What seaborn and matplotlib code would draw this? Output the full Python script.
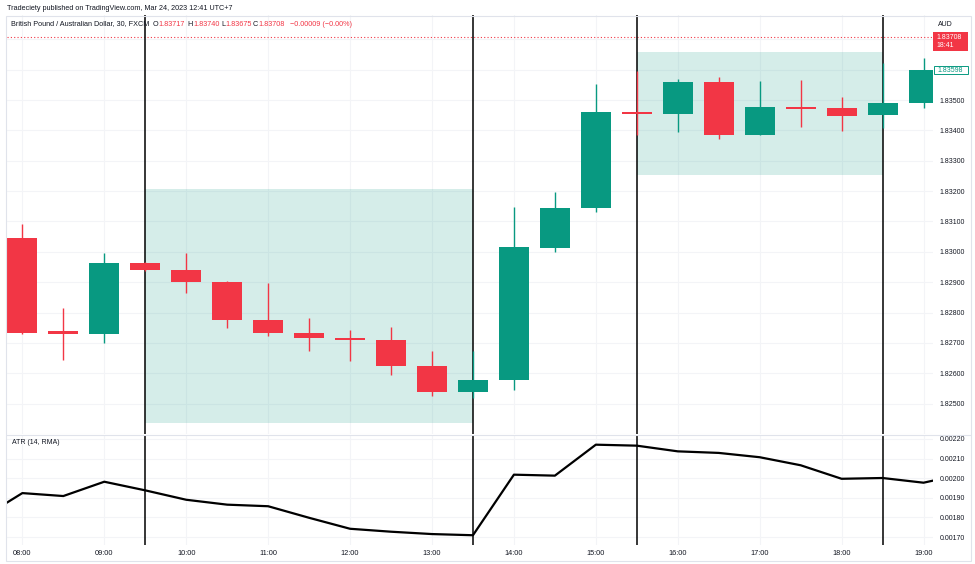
import numpy as np
import pandas as pd
import matplotlib
matplotlib.use("Agg")
import matplotlib.pyplot as plt
from matplotlib.lines import Line2D
from matplotlib.patches import Rectangle
import seaborn as sns

# ---------------- data ----------------
time_labels = ["08:00", "08:30", "09:00", "09:30", "10:00", "10:30", "11:00", "11:30",
               "12:00", "12:30", "13:00", "13:30", "14:00", "14:30", "15:00", "15:30",
               "16:00", "16:30", "17:00", "17:30", "18:00", "18:30", "19:00"]
opens = [1.83045, 1.82738, 1.82729, 1.82964, 1.82941, 1.82902, 1.82777, 1.82733,
         1.82717, 1.82711, 1.82625, 1.82538, 1.82579, 1.83014, 1.83143, 1.83461,
         1.83454, 1.83559, 1.83384, 1.83477, 1.83474, 1.83450, 1.83489]
highs = [1.83091, 1.82814, 1.82995, 1.82966, 1.82995, 1.82903, 1.82896, 1.82781,
         1.82744, 1.82753, 1.82675, 1.82675, 1.83147, 1.83196, 1.83554, 1.83595,
         1.83569, 1.83577, 1.83563, 1.83566, 1.83510, 1.83622, 1.83638]
lows = [1.82728, 1.82645, 1.82699, 1.82937, 1.82866, 1.82749, 1.82722, 1.82674,
        1.82639, 1.82595, 1.82524, 1.82517, 1.82544, 1.83000, 1.83132, 1.83384,
        1.83394, 1.83373, 1.83384, 1.83412, 1.83399, 1.83408, 1.83475]
closes = [1.82734, 1.82728, 1.82964, 1.82939, 1.82901, 1.82777, 1.82732, 1.82716,
          1.82709, 1.82625, 1.82538, 1.82579, 1.83015, 1.83144, 1.83460, 1.83454,
          1.83559, 1.83384, 1.83477, 1.83471, 1.83447, 1.83490, 1.83598]

atr_times = ["07:30", "08:00", "08:30", "09:00", "09:30", "10:00", "10:30", "11:00",
             "11:30", "12:00", "12:30", "13:00", "13:30", "14:00", "14:30", "15:00",
             "15:30", "16:00", "16:30", "17:00", "17:30", "18:00", "18:30", "19:00", "19:30"]
atr_values = [0.001795, 0.001924, 0.001909, 0.001982, 0.001938, 0.001890, 0.001865, 0.001857,
              0.001798, 0.001742, 0.001727, 0.001715, 0.001709, 0.002018, 0.002013, 0.002171,
              0.002166, 0.002137, 0.002129, 0.002107, 0.002066, 0.001997, 0.002001, 0.001977,
              0.002023]

zone_starts = ["09:30", "15:30"]
zone_ends = ["13:30", "18:30"]
zone_lows = [1.82437, 1.83252]
zone_highs = [1.83206, 1.83658]

marker_times = ["09:30", "13:30", "15:30", "18:30"]

hour_labels = ["08:00", "09:00", "10:00", "11:00", "12:00", "13:00",
               "14:00", "15:00", "16:00", "17:00", "18:00", "19:00"]
price_grid = [1.824, 1.825, 1.826, 1.827, 1.828, 1.829, 1.830, 1.831,
              1.832, 1.833, 1.834, 1.835, 1.836, 1.837]
price_labeled = [1.825, 1.826, 1.827, 1.828, 1.829, 1.830, 1.831, 1.832, 1.833, 1.834, 1.835]
atr_ticks = [0.0017, 0.0018, 0.0019, 0.0020, 0.0021, 0.0022]

last_price = 1.83708
last_price_time = "18:41"
last_close = 1.83598

header1 = "Tradeciety published on TradingView.com, Mar 24, 2023 12:41 UTC+7"
symbol_title = "British Pound / Australian Dollar, 30, FXCM"
ohlc_letters = ["O", "H", "L", "C"]
ohlc_values = ["1.83717", "1.83740", "1.83675", "1.83708"]
change_text = "\u22120.00009 (\u22120.00%)"
atr_title = "ATR (14, RMA)"
currency = "AUD"


def to_hours(s):
    h, m = s.split(":")
    return int(h) + int(m) / 60.0


# ---------------- style ----------------
sns.set_theme(style="white")
plt.rcParams["font.family"] = ["Liberation Sans", "DejaVu Sans"]

UP = "#089981"
DOWN = "#F23645"
TXT = "#131722"
GRID = "#f3f4f7"
BORDER = "#e0e3eb"

W, H = 975, 564
fig = plt.figure(figsize=(W / 100, H / 100), dpi=100)
fig.patch.set_facecolor("white")


def fx(x):
    return x / W


def fy(y):
    return 1 - y / H


L, R = 7, 933
T1, B1 = 15, 434
T2, B2 = 435, 545
ax1 = fig.add_axes([fx(L), fy(B1), (R - L) / W, (B1 - T1) / H])
ax2 = fig.add_axes([fx(L), fy(B2), (R - L) / W, (B2 - T2) / H])

xmin, xmax = 7.8126, 19.1154

df = pd.DataFrame({"t": [to_hours(s) for s in time_labels], "o": opens, "h": highs,
                   "l": lows, "c": closes})
df["up"] = df["c"] >= df["o"]
df["color"] = np.where(df["up"], UP, DOWN)
df["bottom"] = df[["o", "c"]].min(axis=1)
df["height"] = (df["c"] - df["o"]).abs().clip(lower=0.00004)

# ---------------- main pane ----------------
ax1.set_xlim(xmin, xmax)
ax1.set_ylim(1.82400, 1.83780)
ax1.set_yticks(price_grid)
ax1.set_yticklabels([f"{v:.5f}" if any(abs(v - p) < 1e-9 for p in price_labeled) else ""
                     for v in price_grid])
ax1.yaxis.tick_right()
ax1.set_xticks([to_hours(s) for s in hour_labels])
ax1.set_xticklabels([])
ax1.tick_params(axis="both", length=0)
ax1.tick_params(axis="y", pad=5, labelsize=5, labelcolor=TXT)
ax1.grid(True, color=GRID, lw=0.8, zorder=0)
ax1.set_axisbelow(True)

for s, e, lo, hi in zip(zone_starts, zone_ends, zone_lows, zone_highs):
    ax1.add_patch(Rectangle((to_hours(s), lo), to_hours(e) - to_hours(s), hi - lo,
                            facecolor=UP, alpha=0.17, edgecolor="none", zorder=1))

ax1.axhline(last_price, color=DOWN, lw=0.8, ls=(0, (1, 2)), zorder=2)

for t in marker_times:
    for ax in (ax1, ax2):
        ax.axvline(to_hours(t), color="black", lw=1.1, zorder=2)

ax1.vlines(df["t"], df["l"], df["h"], colors=df["color"], lw=1.0, zorder=3)
ax1.bar(df["t"], df["height"], bottom=df["bottom"], width=0.367, color=df["color"],
        linewidth=0, zorder=4)

for sp in ax1.spines.values():
    sp.set_visible(False)

# ---------------- ATR pane ----------------
atr_df = pd.DataFrame({"t": [to_hours(s) for s in atr_times], "atr": atr_values})
sns.lineplot(data=atr_df, x="t", y="atr", ax=ax2, color="black", lw=1.6, zorder=3)
ax2.set_xlim(xmin, xmax)
ax2.set_ylim(0.0016592, 0.0022204)
ax2.set_yticks(atr_ticks)
ax2.set_yticklabels([f"{v:.5f}" for v in atr_ticks])
ax2.yaxis.tick_right()
ax2.set_xticks([to_hours(s) for s in hour_labels])
ax2.set_xticklabels(hour_labels)
ax2.set_xlabel("")
ax2.set_ylabel("")
ax2.tick_params(axis="both", length=0, labelsize=5, labelcolor=TXT)
ax2.tick_params(axis="y", pad=5)
ax2.tick_params(axis="x", pad=3.5, labelsize=5.3)
ax2.grid(True, color=GRID, lw=0.8, zorder=0)
ax2.set_axisbelow(True)
for sp in ax2.spines.values():
    sp.set_visible(False)

# ---------------- frame lines ----------------
fig.add_artist(Rectangle((fx(5.5), fy(561)), (971 - 5.5) / W, (561 - 15.5) / H,
                         transform=fig.transFigure, fill=False, edgecolor=BORDER, lw=0.8))
fig.add_artist(Line2D([fx(5.5), fx(971)], [fy(434.5), fy(434.5)],
                      transform=fig.transFigure, color=BORDER, lw=0.8))

# ---------------- texts ----------------
fig.text(fx(7), fy(8), header1, fontsize=5.2, color=TXT, va="center", ha="left")

renderer = fig.canvas.get_renderer()
fig.text(fx(11), fy(24), symbol_title, fontsize=5.2, color=TXT, va="center", ha="left")
letter_x = [152.7, 187.7, 221, 253]
for lx, letter, val in zip(letter_x, ohlc_letters, ohlc_values):
    t = fig.text(fx(lx), fy(24), letter, fontsize=5.2, color=TXT, va="center", ha="left")
    bb = t.get_window_extent(renderer)
    fig.text(bb.x1 / W + 0.5 / W, fy(24), val, fontsize=5.2, color=DOWN, va="center", ha="left")
fig.text(fx(290), fy(24), change_text, fontsize=5.2, color=DOWN, va="center", ha="left")

fig.text(fx(11.5), fy(442), atr_title, fontsize=5, color=TXT, va="center", ha="left")
fig.text(fx(938), fy(24), currency, fontsize=5, color=TXT, va="center", ha="left")

# price labels on the right scale (display coords, origin bottom-left)
fig.canvas.draw()
y_last = ax1.transData.transform((0, last_price))[1]
y_close = ax1.transData.transform((0, last_close))[1]
fig.add_artist(Rectangle((fx(933), (y_last - 14) / H), 35 / W, 19 / H,
                         transform=fig.transFigure, facecolor=DOWN, edgecolor="none", zorder=5))
fig.text(fx(936.5), (y_last - 1) / H, f"{last_price:.5f}", fontsize=5, color="white",
         va="center", ha="left", zorder=6)
fig.text(fx(936.5), (y_last - 9) / H, last_price_time, fontsize=5, color="white",
         va="center", ha="left", zorder=6)
fig.add_artist(Rectangle((fx(933.5), (y_close - 4) / H), 34 / W, 8 / H,
                         transform=fig.transFigure, facecolor="white", edgecolor=UP, lw=0.7,
                         zorder=5))
fig.text(fx(937), y_close / H, f"{last_close:.5f}", fontsize=5, color=UP,
         va="center", ha="left", zorder=6)

fig.savefig("out.png", dpi=100, facecolor="white")
